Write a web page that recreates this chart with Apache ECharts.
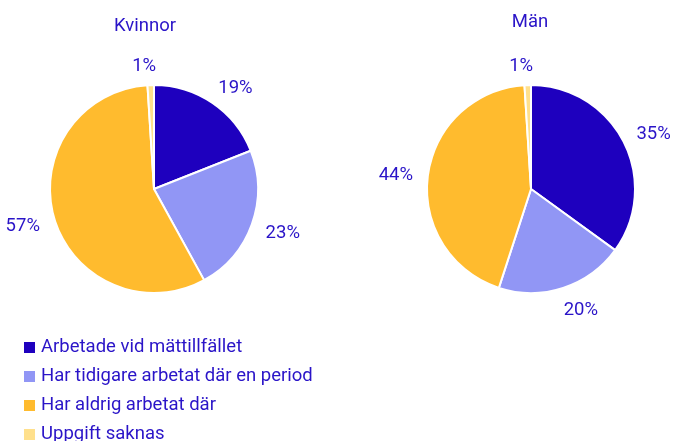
<!DOCTYPE html>
<html>
<head>
<meta charset="utf-8">
<script src="https://cdn.jsdelivr.net/npm/echarts@6/dist/echarts.min.js"></script>
<style>
html,body{margin:0;padding:0;background:#fff;}
#c{width:673px;height:441px;}
</style>
</head>
<body>
<div id="c"></div>
<script>
const categories = ['Arbetade vid mättillfället', 'Har tidigare arbetat där en period', 'Har aldrig arbetat där', 'Uppgift saknas'];
const groupNames = ['Kvinnor', 'Män'];
const kvinnorValues = [19, 23, 57, 1];
const manValues = [35, 20, 44, 1];
const colors = ['#1e00be', '#9196f5', '#ffbb2e', '#ffe08c'];

const textColor = '#2a14c8';
const font = 'Roboto';
const fs = 18.5;

function pieSeries(name, values, cx, cy) {
  return {
    type: 'pie',
    name: name,
    center: [cx, cy],
    radius: [0, 104],
    startAngle: 90,
    clockwise: true,
    avoidLabelOverlap: false,
    silent: true,
    itemStyle: { borderColor: '#fff', borderWidth: 2 },
    label: {
      show: true,
      position: 'outside',
      formatter: p => '{v|' + p.value + '%}',
      color: textColor,
      fontFamily: font,
      fontSize: fs,
      distanceToLabelLine: -6,
      rich: {
        v: { color: textColor, fontFamily: font, fontSize: fs, padding: [5, 0, 0, 0] }
      }
    },
    labelLine: { show: false, length: 21, length2: 0 },
    emphasis: { disabled: true },
    data: categories.map((c, i) => ({
      name: c,
      value: values[i],
      itemStyle: { color: colors[i] }
    }))
  };
}

const chart = echarts.init(document.getElementById('c'), null, { renderer: 'canvas' });
chart.setOption({
  animation: false,
  backgroundColor: '#fff',
  title: [
    { text: groupNames[0], left: 145, top: 17, textAlign: 'center', padding: 0,
      textStyle: { color: textColor, fontFamily: font, fontSize: fs, fontWeight: 'normal' } },
    { text: groupNames[1], left: 530, top: 13, textAlign: 'center', padding: 0,
      textStyle: { color: textColor, fontFamily: font, fontSize: fs, fontWeight: 'normal' } }
  ],
  legend: {
    orient: 'vertical',
    left: 22,
    top: 338,
    height: 200,
    padding: 0,
    icon: 'rect',
    itemWidth: 13,
    itemHeight: 13,
    itemGap: 10,
    selectedMode: false,
    textStyle: { color: textColor, fontFamily: font, fontSize: fs },
    data: categories
  },
  series: [
    pieSeries(groupNames[0], kvinnorValues, 154, 189),
    pieSeries(groupNames[1], manValues, 531, 189)
  ]
});
</script>
</body>
</html>
